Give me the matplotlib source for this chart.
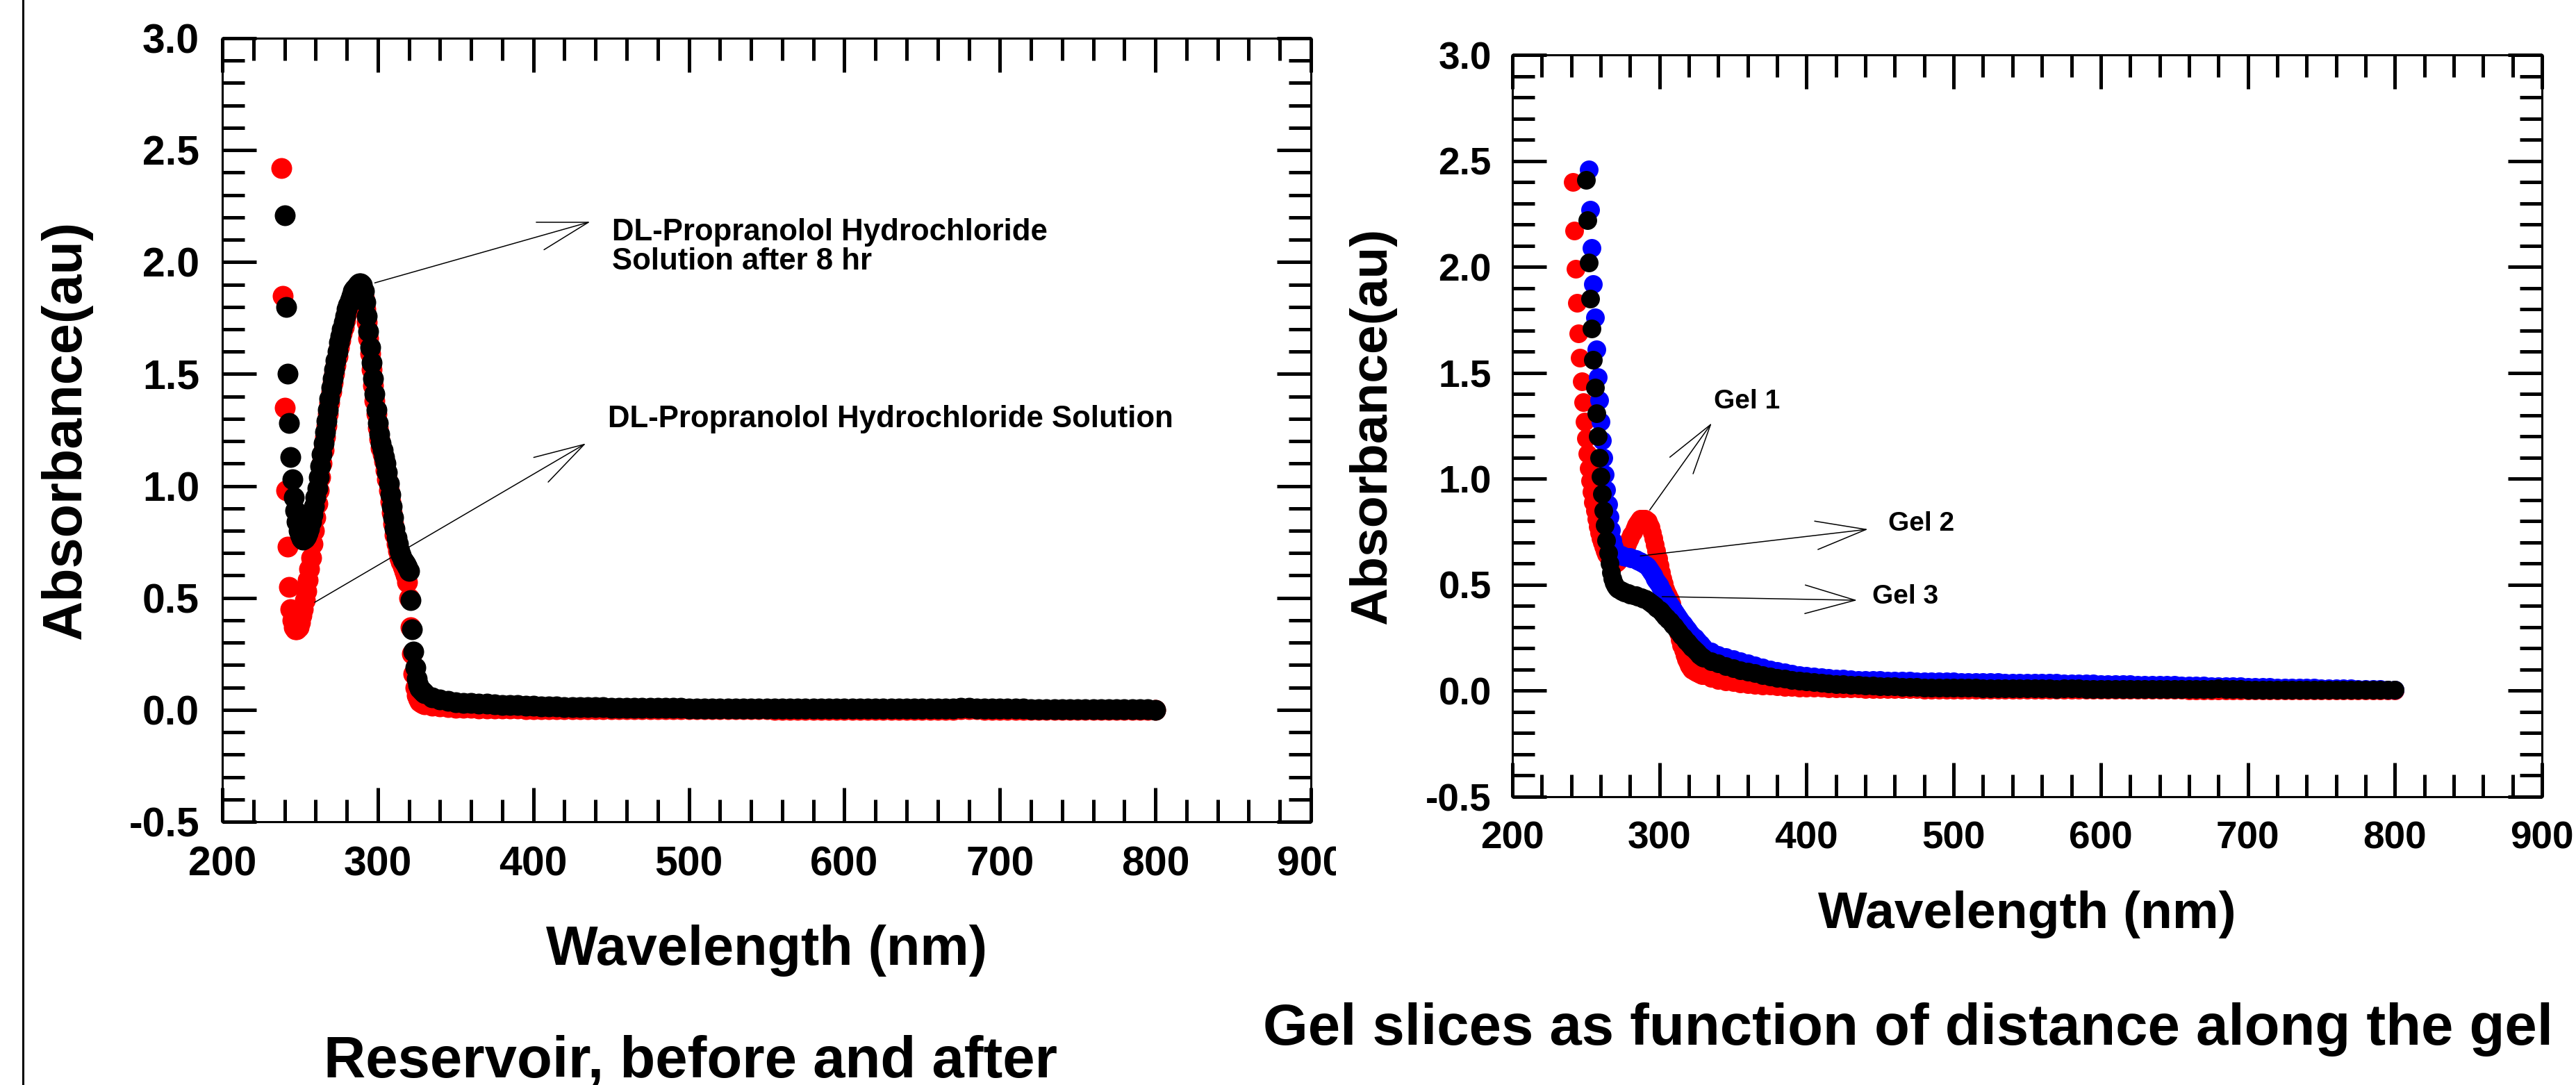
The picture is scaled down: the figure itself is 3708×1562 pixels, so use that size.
import numpy as np
import matplotlib
matplotlib.use('Agg')
from matplotlib import pyplot as plt
from matplotlib.lines import Line2D
from matplotlib.ticker import MultipleLocator, FormatStrFormatter
from matplotlib.transforms import Bbox, TransformedBbox

plt.rcParams['font.family'] = ['Liberation Sans', 'DejaVu Sans']
plt.rcParams['font.weight'] = 'bold'
plt.rcParams['axes.unicode_minus'] = False

# spectra exported every 1 nm up to 330 nm, every 5 nm after that
wl_tail = np.arange(335, 801, 5)

# --- reservoir (left) ---
res_before_start = 238
res_before_fine = [
    2.42, 1.85, 1.35, 0.98, 0.73, 0.55, 0.45, 0.40, 0.37, 0.36,
    0.36, 0.37, 0.39, 0.42, 0.45, 0.49, 0.53, 0.58, 0.63, 0.68,
    0.74, 0.80, 0.86, 0.92, 0.98, 1.04, 1.10, 1.16, 1.22, 1.27,
    1.32, 1.37, 1.42, 1.46, 1.50, 1.54, 1.58, 1.62, 1.65, 1.68,
    1.71, 1.74, 1.77, 1.79, 1.81, 1.83, 1.85, 1.86, 1.87, 1.88,
    1.88, 1.88, 1.87, 1.84, 1.79, 1.73, 1.66, 1.59, 1.52, 1.45,
    1.38, 1.32, 1.26, 1.21, 1.17, 1.14, 1.11, 1.07, 1.03, 0.98,
    0.93, 0.88, 0.83, 0.78, 0.74, 0.71, 0.68, 0.66, 0.64, 0.62,
    0.60, 0.57, 0.50, 0.37, 0.25, 0.16, 0.10, 0.065, 0.048, 0.038,
    0.032, 0.028, 0.025]
res_before_tail = [
    0.018, 0.014, 0.012, 0.010, 0.009, 0.008, 0.007, 0.006, 0.006, 0.005,
    0.005, 0.005, 0.004, 0.004, 0.004, 0.004, 0.003, 0.003, 0.003, 0.003,
    0.003, 0.003, 0.003, 0.002, 0.002, 0.002, 0.002, 0.002, 0.002, 0.002,
    0.002, 0.002, 0.002, 0.002, 0.002, 0.002, 0.002, 0.002, 0.002, 0.002,
    0.002, 0.002, 0.002, 0.002, 0.001, 0.001, 0.001, 0.001, 0.001, 0.001,
    0.001, 0.001, 0.001, 0.001, 0.001, 0.001, 0.001, 0.001, 0.001, 0.001,
    0.001, 0.001, 0.001, 0.001, 0.001, 0.001, 0.001, 0.001, 0.002, 0.003,
    0.002, 0.001, 0.001, 0.001, 0.001, 0.001, 0.001, 0.001, 0.001, 0.001,
    0.001, 0.001, 0.001, 0.001, 0.001, 0.000, 0.000, 0.000, 0.000, 0.000,
    0.000, 0.000, 0.000, 0.000]

res_after_start = 240
res_after_fine = [
    2.21, 1.80, 1.50, 1.28, 1.13, 1.03, 0.95, 0.89, 0.84, 0.80,
    0.78, 0.765, 0.76, 0.765, 0.775, 0.79, 0.81, 0.84, 0.87, 0.91,
    0.95, 0.99, 1.04, 1.09, 1.14, 1.19, 1.24, 1.29, 1.34, 1.39,
    1.44, 1.48, 1.52, 1.56, 1.60, 1.64, 1.67, 1.70, 1.73, 1.76,
    1.79, 1.81, 1.83, 1.85, 1.87, 1.88, 1.89, 1.90, 1.905, 1.905,
    1.90, 1.87, 1.82, 1.76, 1.69, 1.62, 1.55, 1.48, 1.41, 1.34,
    1.28, 1.23, 1.19, 1.16, 1.13, 1.10, 1.06, 1.01, 0.96, 0.91,
    0.86, 0.81, 0.77, 0.74, 0.71, 0.69, 0.67, 0.66, 0.65, 0.64,
    0.62, 0.49, 0.36, 0.26, 0.19, 0.14, 0.11, 0.095, 0.085, 0.08,
    0.075]
res_after_tail = [
    0.055, 0.045, 0.040, 0.035, 0.032, 0.030, 0.028, 0.026, 0.024, 0.022,
    0.021, 0.020, 0.019, 0.017, 0.016, 0.015, 0.014, 0.013, 0.013, 0.012,
    0.012, 0.011, 0.011, 0.010, 0.010, 0.010, 0.009, 0.009, 0.009, 0.008,
    0.008, 0.008, 0.008, 0.007, 0.007, 0.007, 0.007, 0.007, 0.006, 0.006,
    0.006, 0.006, 0.006, 0.006, 0.006, 0.005, 0.005, 0.005, 0.005, 0.005,
    0.005, 0.006, 0.006, 0.006, 0.005, 0.005, 0.005, 0.005, 0.005, 0.005,
    0.005, 0.005, 0.005, 0.005, 0.005, 0.005, 0.005, 0.006, 0.008, 0.010,
    0.007, 0.005, 0.005, 0.005, 0.005, 0.005, 0.005, 0.004, 0.004, 0.004,
    0.004, 0.004, 0.004, 0.004, 0.003, 0.003, 0.003, 0.003, 0.003, 0.003,
    0.002, 0.002, 0.002, 0.001]

# --- gel slices (right) ---
gel1_start = 241
gel1_fine = [
    2.40, 2.17, 1.99, 1.83, 1.685, 1.57, 1.46, 1.36, 1.27, 1.19,
    1.12, 1.05, 0.99, 0.94, 0.89, 0.85, 0.81, 0.775, 0.745, 0.72,
    0.70, 0.68, 0.66, 0.645, 0.63, 0.62, 0.61, 0.605, 0.60, 0.60,
    0.605, 0.61, 0.62, 0.63, 0.645, 0.66, 0.675, 0.69, 0.705, 0.72,
    0.735, 0.75, 0.765, 0.78, 0.79, 0.80, 0.81, 0.81, 0.81, 0.81,
    0.805, 0.80, 0.785, 0.77, 0.745, 0.72, 0.69, 0.66, 0.625, 0.59,
    0.56, 0.53, 0.505, 0.48, 0.465, 0.45, 0.43, 0.41, 0.385, 0.36,
    0.33, 0.30, 0.27, 0.24, 0.215, 0.19, 0.17, 0.15, 0.135, 0.12,
    0.11, 0.10, 0.095, 0.09, 0.087, 0.084, 0.081, 0.078, 0.075, 0.072]
gel1_tail = [
    0.062, 0.052, 0.045, 0.040, 0.035, 0.031, 0.028, 0.025, 0.023, 0.021,
    0.019, 0.018, 0.016, 0.015, 0.014, 0.013, 0.012, 0.012, 0.011, 0.010,
    0.010, 0.009, 0.009, 0.008, 0.008, 0.008, 0.007, 0.007, 0.007, 0.006,
    0.006, 0.006, 0.006, 0.006, 0.006, 0.005, 0.005, 0.005, 0.005, 0.005,
    0.005, 0.005, 0.005, 0.005, 0.005, 0.004, 0.004, 0.004, 0.004, 0.004,
    0.004, 0.004, 0.004, 0.004, 0.004, 0.004, 0.004, 0.004, 0.004, 0.004,
    0.004, 0.004, 0.004, 0.004, 0.004, 0.003, 0.003, 0.003, 0.003, 0.003,
    0.003, 0.003, 0.003, 0.003, 0.003, 0.003, 0.003, 0.003, 0.003, 0.003,
    0.003, 0.003, 0.003, 0.003, 0.003, 0.002, 0.002, 0.002, 0.002, 0.002,
    0.002, 0.002, 0.002, 0.002]

gel2_start = 252
gel2_fine = [
    2.46, 2.27, 2.09, 1.92, 1.76, 1.61, 1.48, 1.37, 1.27, 1.18,
    1.10, 1.02, 0.95, 0.88, 0.82, 0.76, 0.71, 0.68, 0.66, 0.65,
    0.645, 0.64, 0.64, 0.635, 0.635, 0.63, 0.63, 0.63, 0.63, 0.625,
    0.625, 0.62, 0.62, 0.615, 0.61, 0.61, 0.605, 0.60, 0.595, 0.59,
    0.585, 0.575, 0.565, 0.555, 0.545, 0.53, 0.52, 0.505, 0.495, 0.48,
    0.47, 0.455, 0.445, 0.43, 0.42, 0.405, 0.395, 0.385, 0.375, 0.365,
    0.355, 0.345, 0.335, 0.325, 0.315, 0.305, 0.295, 0.29, 0.28, 0.27,
    0.265, 0.255, 0.25, 0.24, 0.235, 0.225, 0.22, 0.21, 0.205]
gel2_tail = [
    0.185, 0.170, 0.158, 0.148, 0.140, 0.130, 0.120, 0.110, 0.100, 0.092,
    0.085, 0.079, 0.074, 0.070, 0.066, 0.063, 0.060, 0.058, 0.056, 0.054,
    0.052, 0.051, 0.050, 0.049, 0.048, 0.047, 0.046, 0.046, 0.045, 0.045,
    0.044, 0.044, 0.043, 0.043, 0.042, 0.042, 0.041, 0.041, 0.040, 0.040,
    0.039, 0.039, 0.038, 0.038, 0.037, 0.037, 0.036, 0.036, 0.035, 0.035,
    0.034, 0.034, 0.033, 0.032, 0.032, 0.031, 0.030, 0.030, 0.029, 0.028,
    0.028, 0.027, 0.026, 0.026, 0.025, 0.024, 0.024, 0.023, 0.022, 0.022,
    0.021, 0.020, 0.020, 0.019, 0.018, 0.018, 0.017, 0.016, 0.016, 0.015,
    0.014, 0.014, 0.013, 0.012, 0.012, 0.011, 0.010, 0.010, 0.009, 0.008,
    0.008, 0.007, 0.006, 0.006]

gel3_start = 250
gel3_fine = [
    2.41, 2.22, 2.02, 1.85, 1.71, 1.56, 1.43, 1.31, 1.20, 1.10,
    1.01, 0.93, 0.85, 0.78, 0.71, 0.65, 0.60, 0.56, 0.53, 0.51,
    0.495, 0.485, 0.48, 0.475, 0.47, 0.47, 0.465, 0.465, 0.46, 0.46,
    0.455, 0.455, 0.45, 0.45, 0.45, 0.445, 0.445, 0.44, 0.44, 0.435,
    0.435, 0.43, 0.425, 0.42, 0.415, 0.41, 0.405, 0.40, 0.39, 0.385,
    0.38, 0.375, 0.365, 0.36, 0.35, 0.345, 0.335, 0.33, 0.32, 0.31,
    0.305, 0.295, 0.285, 0.28, 0.27, 0.26, 0.255, 0.245, 0.235, 0.23,
    0.22, 0.215, 0.205, 0.20, 0.19, 0.185, 0.18, 0.17, 0.165, 0.16,
    0.155]
gel3_tail = [
    0.140, 0.128, 0.117, 0.107, 0.098, 0.090, 0.082, 0.075, 0.068, 0.062,
    0.057, 0.052, 0.047, 0.043, 0.040, 0.037, 0.034, 0.032, 0.030, 0.028,
    0.026, 0.025, 0.023, 0.022, 0.021, 0.020, 0.019, 0.018, 0.017, 0.016,
    0.016, 0.015, 0.015, 0.014, 0.014, 0.013, 0.013, 0.012, 0.012, 0.012,
    0.011, 0.011, 0.011, 0.010, 0.010, 0.010, 0.010, 0.009, 0.010, 0.011,
    0.010, 0.009, 0.009, 0.009, 0.008, 0.008, 0.008, 0.008, 0.008, 0.008,
    0.007, 0.007, 0.007, 0.007, 0.007, 0.007, 0.007, 0.007, 0.009, 0.010,
    0.008, 0.007, 0.007, 0.006, 0.006, 0.006, 0.006, 0.006, 0.006, 0.006,
    0.006, 0.006, 0.006, 0.006, 0.006, 0.005, 0.005, 0.005, 0.005, 0.005,
    0.005, 0.004, 0.004, 0.004]


def spectrum(start, fine, tail):
    wl = np.concatenate([np.arange(start, 331), wl_tail])
    ab = np.array(fine + tail)
    assert len(wl) == len(ab)
    return wl, ab


def style_axes(ax, tick_fs, label_fs, ypad, xpad):
    ax.set_xlim(200, 900)
    ax.set_ylim(-0.5, 3.0)
    ax.xaxis.set_major_locator(MultipleLocator(100))
    ax.xaxis.set_minor_locator(MultipleLocator(20))
    ax.yaxis.set_major_locator(MultipleLocator(0.5))
    ax.yaxis.set_minor_locator(MultipleLocator(0.1))
    ax.yaxis.set_major_formatter(FormatStrFormatter('%.1f'))
    ax.tick_params(which='both', direction='in', top=True, right=True,
                   width=3.6, color='black')
    ax.tick_params(which='major', length=35)
    ax.tick_params(which='minor', length=23)
    ax.tick_params(axis='y', labelsize=tick_fs, pad=ypad)
    ax.tick_params(axis='x', labelsize=tick_fs, pad=xpad)
    for sp in ax.spines.values():
        sp.set_linewidth(2.2)
    ax.set_xlabel('Wavelength (nm)', fontsize=label_fs, fontweight='bold')
    ax.set_ylabel('Absorbance(au)', fontsize=label_fs, fontweight='bold')


def arrow(ax, start, tip):
    ax.annotate('', xy=tip, xytext=start,
                arrowprops=dict(arrowstyle='->,head_length=2.6,head_width=0.74',
                                mutation_scale=20, lw=1.1, color='black',
                                shrinkA=0, shrinkB=0))


W, H = 3708, 1562
fig = plt.figure(figsize=(W / 100, H / 100), dpi=100)
fig.patch.set_facecolor('white')

# left panel
ax1 = fig.add_axes([320 / W, 1 - 1183 / H, 1567 / W, 1128 / H])
x, y = spectrum(res_before_start, res_before_fine, res_before_tail)
ax1.plot(x, y, 'o', ms=21.6, color='red', mew=0)
x, y = spectrum(res_after_start, res_after_fine, res_after_tail)
ax1.plot(x, y, 'o', ms=21.6, color='black', mew=0)
style_axes(ax1, 42.5, 57, 23.8, 24.5)
ax1.xaxis.set_label_coords(0.5, -0.131)
ax1.yaxis.set_label_coords(-0.1193, 0.5)

arrow(ax1, (298, 1.907), (436.6, 2.18))
ax1.text(450.4, 2.068, 'DL-Propranolol Hydrochloride\nSolution after 8 hr',
         fontsize=31.5, ha='left', va='center', linespacing=1.05)
arrow(ax1, (259.4, 0.48), (433.8, 1.19))
ax1.text(448, 1.298, 'DL-Propranolol Hydrochloride Solution',
         fontsize=31.5, ha='left', va='center')

# the source image is cropped just right of the left panel's "900"
crop = TransformedBbox(Bbox.from_extents(0, 0, 1923 / W, 1), fig.transFigure)
for lab in ax1.get_xticklabels():
    lab.set_clip_box(crop)
    lab.set_clip_on(True)

# right panel
ax2 = fig.add_axes([2177 / W, 1 - 1147 / H, 1482 / W, 1068 / H])
x, y = spectrum(gel1_start, gel1_fine, gel1_tail)
ax2.plot(x, y, 'o', ms=19.4, color='red', mew=0)
x, y = spectrum(gel2_start, gel2_fine, gel2_tail)
ax2.plot(x, y, 'o', ms=19.4, color='blue', mew=0)
x, y = spectrum(gel3_start, gel3_fine, gel3_tail)
ax2.plot(x, y, 'o', ms=19.4, color='black', mew=0)
style_axes(ax2, 39.6, 54, 21.6, 25)
ax2.xaxis.set_label_coords(0.5, -0.126)
ax2.yaxis.set_label_coords(-0.1127, 0.5)

arrow(ax2, (293.4, 0.853), (335.5, 1.263))
ax2.text(337.2, 1.364, 'Gel 1', fontsize=28, ha='left', va='center')
arrow(ax2, (287, 0.636), (441.8, 0.762))
ax2.text(455.5, 0.787, 'Gel 2', fontsize=28, ha='left', va='center')
arrow(ax2, (301.8, 0.444), (434.4, 0.427))
ax2.text(444.9, 0.444, 'Gel 3', fontsize=28, ha='left', va='center')

# captions under each panel
fig.text(994 / W, 1 - 1551 / H, 'Reservoir, before and after',
         ha='center', va='baseline', fontsize=60, fontweight='bold')
fig.text(2746 / W, 1 - 1504 / H, 'Gel slices as function of distance along the gel',
         ha='center', va='baseline', fontsize=60, fontweight='bold')

# frame line on the left edge of the composite
fig.add_artist(Line2D([33 / W, 33 / W], [0, 1], transform=fig.transFigure,
                      color='black', lw=2.2))

fig.savefig('out.png', dpi=100)
